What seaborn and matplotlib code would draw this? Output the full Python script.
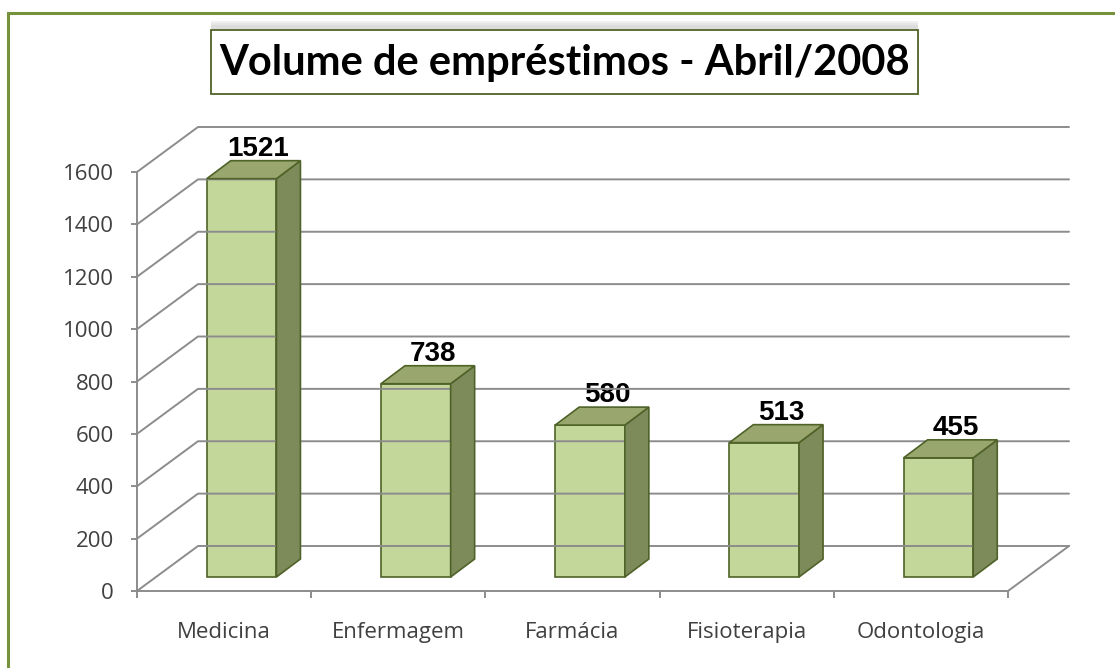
import matplotlib
matplotlib.use("Agg")
import matplotlib.pyplot as plt
import seaborn as sns
import pandas as pd
import numpy as np
from matplotlib.patches import Polygon, Rectangle
from matplotlib.lines import Line2D
from matplotlib.transforms import offset_copy, IdentityTransform

# ---------------- data ----------------
categories = ["Medicina", "Enfermagem", "Farmácia", "Fisioterapia", "Odontologia"]
values = [1521, 738, 580, 513, 455]
y_ticks = [0, 200, 400, 600, 800, 1000, 1200, 1400, 1600]
title = "Volume de empréstimos - Abril/2008"

# ---------------- style ----------------
W, H, DPI = 1115, 668, 100
FRONT = "#C4D79B"
SIDE = "#7D8B5B"
TOP = "#99A76E"
EDGE = "#4F6228"
GRID = "#8C8C8C"
TXT = "#404040"
WALL_DX, WALL_DY = 61, 45      # back wall offset (px)
BAR_DX, BAR_DY = 17.5, 14      # bar front-face offset (px)
DEP_DX, DEP_DY = 24, 18        # bar depth (px)

sns.set_theme(style="white")
plt.rcParams["font.family"] = ["Open Sans", "DejaVu Sans"]

fig = plt.figure(figsize=(W / DPI, H / DPI), dpi=DPI)
fig.patch.set_facecolor("white")
ax = fig.add_axes([137 / W, (H - 591) / H, (1008 - 137) / W, (591 - 172) / H])
ax.set_facecolor("none")

df = pd.DataFrame({"cat": categories, "val": values})
bar_tr = offset_copy(ax.transData, fig=fig, x=BAR_DX, y=BAR_DY, units="dots")
sns.barplot(data=df, x="cat", y="val", order=categories, color=FRONT,
            width=0.40, saturation=1, ax=ax, zorder=4,
            edgecolor=EDGE, linewidth=1.2)
ax.set_xlim(-0.5, len(categories) - 0.5)
ax.set_ylim(0, 1600)
ax.set_xlabel("")
ax.set_ylabel("")

fig.canvas.draw()


def disp(x, y, ox=0.0, oy=0.0):
    px, py = ax.transData.transform((x, y))
    return (px + ox, py + oy)


ident = IdentityTransform()

# back wall gridlines and left wall diagonals
x_left, x_right = ax.get_xlim()
for v in y_ticks:
    p0 = disp(x_left, v)
    p1 = disp(x_left, v, WALL_DX, WALL_DY)
    p2 = disp(x_right, v, WALL_DX, WALL_DY)
    fig.add_artist(Line2D([p0[0], p1[0], p2[0]], [p0[1], p1[1], p2[1]],
                          transform=ident, color=GRID, lw=1.4, zorder=1))
# floor right diagonal
q0 = disp(x_right, 0)
q1 = disp(x_right, 0, WALL_DX, WALL_DY)
fig.add_artist(Line2D([q0[0], q1[0]], [q0[1], q1[1]], transform=ident,
                      color=GRID, lw=1.4, zorder=1))

# 3D bars: shift front faces, add side + top faces
for patch, val in zip(ax.patches, values):
    patch.set_transform(bar_tr)
    patch.set_zorder(4)
    x0 = patch.get_x()
    x1 = x0 + patch.get_width()
    h = patch.get_height()
    side = [disp(x1, 0, BAR_DX, BAR_DY), disp(x1, h, BAR_DX, BAR_DY),
            disp(x1, h, BAR_DX + DEP_DX, BAR_DY + DEP_DY),
            disp(x1, 0, BAR_DX + DEP_DX, BAR_DY + DEP_DY)]
    top = [disp(x0, h, BAR_DX, BAR_DY), disp(x1, h, BAR_DX, BAR_DY),
           disp(x1, h, BAR_DX + DEP_DX, BAR_DY + DEP_DY),
           disp(x0, h, BAR_DX + DEP_DX, BAR_DY + DEP_DY)]
    fig.add_artist(Polygon(side, closed=True, transform=ident, facecolor=SIDE,
                           edgecolor=EDGE, lw=1.2, zorder=3))
    fig.add_artist(Polygon(top, closed=True, transform=ident, facecolor=TOP,
                           edgecolor=EDGE, lw=1.2, zorder=3))
    cx = x0 + patch.get_width() / 2
    ax.annotate(f"{val}", xy=(cx, h), xytext=(BAR_DX + DEP_DX / 2 + 5, BAR_DY + DEP_DY + 5),
                textcoords="offset pixels", ha="center", va="baseline",
                fontsize=20, fontweight="bold", fontfamily="Liberation Sans",
                color="black", annotation_clip=False, zorder=6)

# spines / ticks
for s in ["top", "right"]:
    ax.spines[s].set_visible(False)
for s in ["left", "bottom"]:
    ax.spines[s].set_color(GRID)
    ax.spines[s].set_linewidth(1.4)
ax.set_yticks(y_ticks)
ax.set_yticklabels([str(v) for v in y_ticks])
ax.tick_params(axis="y", which="major", length=4.5, width=1.4, color=GRID,
               labelsize=16, labelcolor=TXT, pad=12, left=True)
ax.set_xticks(range(len(categories)))
ax.set_xticklabels(categories)
ax.set_xticks(np.arange(-0.5, len(categories)), minor=True)
ax.tick_params(axis="x", which="major", length=0, labelsize=16, labelcolor=TXT, pad=22)
ax.tick_params(axis="x", which="minor", length=5, width=1.4, color=GRID, bottom=True)
ax.grid(False)

# outer olive frame
fig.add_artist(Rectangle((8 / W, -0.05), 1.1, (H - 13) / H + 0.05,
                         transform=fig.transFigure, facecolor="none",
                         edgecolor="#76923C", lw=2.2, zorder=0))

# title box with soft shadow
bx0, bx1, by_top, by_bot = 211, 918, 30, 94
for i, c in enumerate(["#F0F0F0", "#E6E6E6", "#DCDCDC"]):
    fig.add_artist(Rectangle((bx0 / W, (H - by_top + 1) / H), (bx1 - bx0) / W, (8 - 2 * i) / H,
                             transform=fig.transFigure, facecolor=c,
                             edgecolor="none", zorder=1))
fig.add_artist(Rectangle((bx0 / W, (H - by_bot) / H), (bx1 - bx0) / W, (by_bot - by_top) / H,
                         transform=fig.transFigure, facecolor="white",
                         edgecolor="#4F6228", lw=1.3, zorder=2))
fig.text((bx0 + bx1) / 2 / W, (H - 63) / H, title, ha="center", va="center",
         fontsize=30, fontweight="bold", fontfamily="Lato", color="black", zorder=3)

fig.savefig("out.png", dpi=DPI, facecolor="white")
